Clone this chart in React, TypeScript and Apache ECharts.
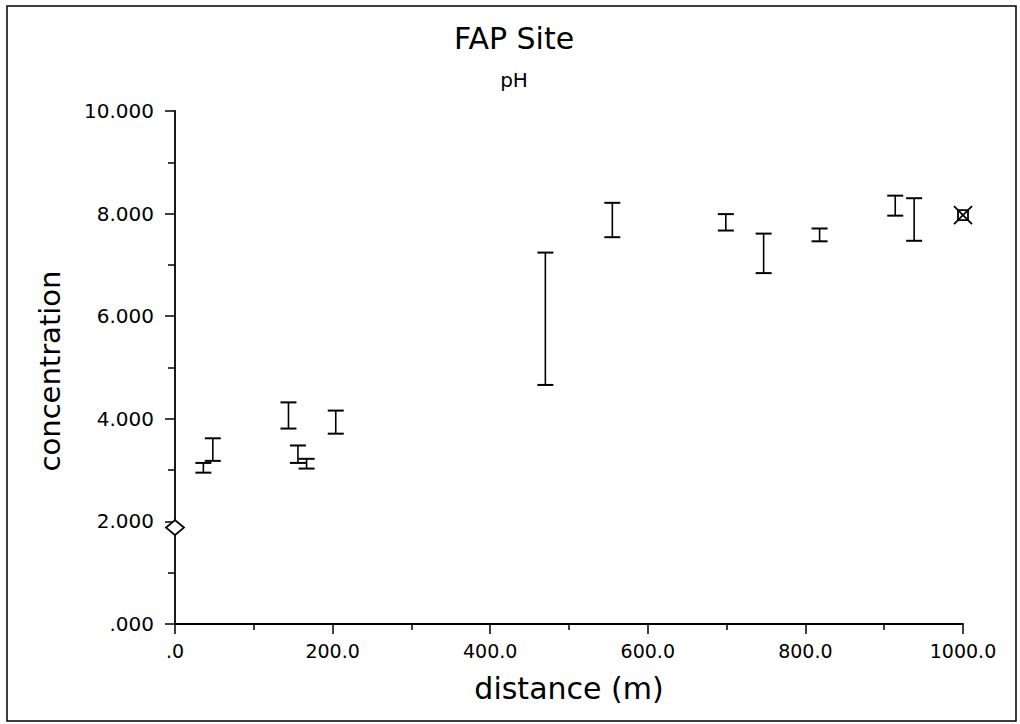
import React, { useEffect, useRef } from "react";
import * as echarts from "echarts";

const distances = [36, 48, 144, 156, 167, 204, 470, 555, 699, 747, 818, 914, 938];
const highs = [3.14, 3.62, 4.32, 3.48, 3.22, 4.16, 7.24, 8.21, 7.99, 7.61, 7.71, 8.35, 8.3];
const lows = [2.95, 3.18, 3.81, 3.14, 3.03, 3.71, 4.66, 7.54, 7.67, 6.84, 7.46, 7.96, 7.47];
const diamondPoint = [0, 1.88];
const squarePoint = [1000, 7.97];

const titleText = "FAP Site";
const subtitleText = "pH";
const xName = "distance (m)";
const yName = "concentration";

const FONT = "'DejaVu Sans', sans-serif";

export default function App() {
  const ref = useRef<HTMLDivElement>(null);
  useEffect(() => {
    if (!ref.current) return;
    const chart = echarts.init(ref.current, null, { renderer: "svg" });
    const barData = distances.map((d, i) => [d, lows[i], highs[i]]);
    chart.setOption({
      animation: false,
      backgroundColor: "#fff",
      grid: { left: 175, right: 57, top: 111, bottom: 100, containLabel: false },
      xAxis: {
        type: "value",
        min: 0,
        max: 1000,
        interval: 200,
        axisLine: { show: true, onZero: false, lineStyle: { color: "#000", width: 1.8 } },
        axisTick: { show: true, inside: false, length: 10, lineStyle: { color: "#000", width: 1.5 } },
        minorTick: { show: true, splitNumber: 2, length: 6, lineStyle: { color: "#000", width: 1.5 } },
        splitLine: { show: false },
        axisLabel: {
          color: "#000",
          fontSize: 19,
          fontFamily: FONT,
          margin: 17,
          formatter: (v: number) => (v === 0 ? ".0" : v.toFixed(1)),
        },
      },
      yAxis: {
        type: "value",
        min: 0,
        max: 10,
        interval: 2,
        axisLine: { show: true, onZero: false, lineStyle: { color: "#000", width: 1.8 } },
        axisTick: { show: true, inside: false, length: 10, lineStyle: { color: "#000", width: 1.5 } },
        minorTick: { show: true, splitNumber: 2, length: 7, lineStyle: { color: "#000", width: 1.5 } },
        splitLine: { show: false },
        axisLabel: {
          color: "#000",
          fontSize: 20,
          fontFamily: FONT,
          margin: 21,
          formatter: (v: number) => (v === 0 ? ".000" : v.toFixed(3)),
        },
      },
      graphic: [
        {
          type: "rect",
          shape: { x: 7, y: 6, width: 1009, height: 715 },
          style: { fill: "none", stroke: "#000", lineWidth: 1.5 },
          silent: true,
        },
        {
          type: "text",
          x: 514,
          y: 38,
          style: { text: titleText, fill: "#000", font: `30px ${FONT}`, textAlign: "center", textVerticalAlign: "middle" },
        },
        {
          type: "text",
          x: 514,
          y: 80,
          style: { text: subtitleText, fill: "#000", font: `20px ${FONT}`, textAlign: "center", textVerticalAlign: "middle" },
        },
        {
          type: "text",
          x: 569,
          y: 688,
          style: { text: xName, fill: "#000", font: `30px ${FONT}`, textAlign: "center", textVerticalAlign: "middle" },
        },
        {
          type: "text",
          x: 50,
          y: 371,
          rotation: Math.PI / 2,
          style: { text: yName, fill: "#000", font: `29px ${FONT}`, textAlign: "center", textVerticalAlign: "middle" },
        },
      ],
      series: [
        {
          type: "custom",
          encode: { x: 0, y: [1, 2] },
          data: barData,
          renderItem: (params: any, api: any) => {
            const x = api.value(0);
            const lo = api.value(1);
            const hi = api.value(2);
            const pHi = api.coord([x, hi]);
            const pLo = api.coord([x, lo]);
            const hw = 8;
            const st = { stroke: "#000", lineWidth: 2 };
            return {
              type: "group",
              children: [
                { type: "line", shape: { x1: pHi[0], y1: pHi[1], x2: pLo[0], y2: pLo[1] }, style: { stroke: "#000", lineWidth: 1.6 } },
                { type: "line", shape: { x1: pHi[0] - hw, y1: pHi[1], x2: pHi[0] + hw, y2: pHi[1] }, style: st },
                { type: "line", shape: { x1: pLo[0] - hw, y1: pLo[1], x2: pLo[0] + hw, y2: pLo[1] }, style: st },
              ],
            };
          },
        },
        {
          type: "scatter",
          data: [diamondPoint],
          symbol: "diamond",
          symbolSize: [18, 15],
          itemStyle: { color: "#fff", borderColor: "#000", borderWidth: 1.8, opacity: 1 },
          emphasis: { disabled: true },
        },
        {
          type: "custom",
          encode: { x: 0, y: 1 },
          data: [squarePoint],
          renderItem: (params: any, api: any) => {
            const p = api.coord([api.value(0), api.value(1)]);
            const s = 5;
            const d = 9;
            const st = { stroke: "#000", lineWidth: 1.8, fill: "none" };
            return {
              type: "group",
              children: [
                { type: "rect", shape: { x: p[0] - s, y: p[1] - s, width: 2 * s, height: 2 * s }, style: st },
                { type: "line", shape: { x1: p[0] - d, y1: p[1] - d, x2: p[0] + d, y2: p[1] + d }, style: st },
                { type: "line", shape: { x1: p[0] - d, y1: p[1] + d, x2: p[0] + d, y2: p[1] - d }, style: st },
              ],
            };
          },
        },
      ],
    });
    return () => chart.dispose();
  }, []);
  return <div ref={ref} style={{ width: 1020, height: 724, position: "absolute", left: 0, top: 0 }} />;
}
